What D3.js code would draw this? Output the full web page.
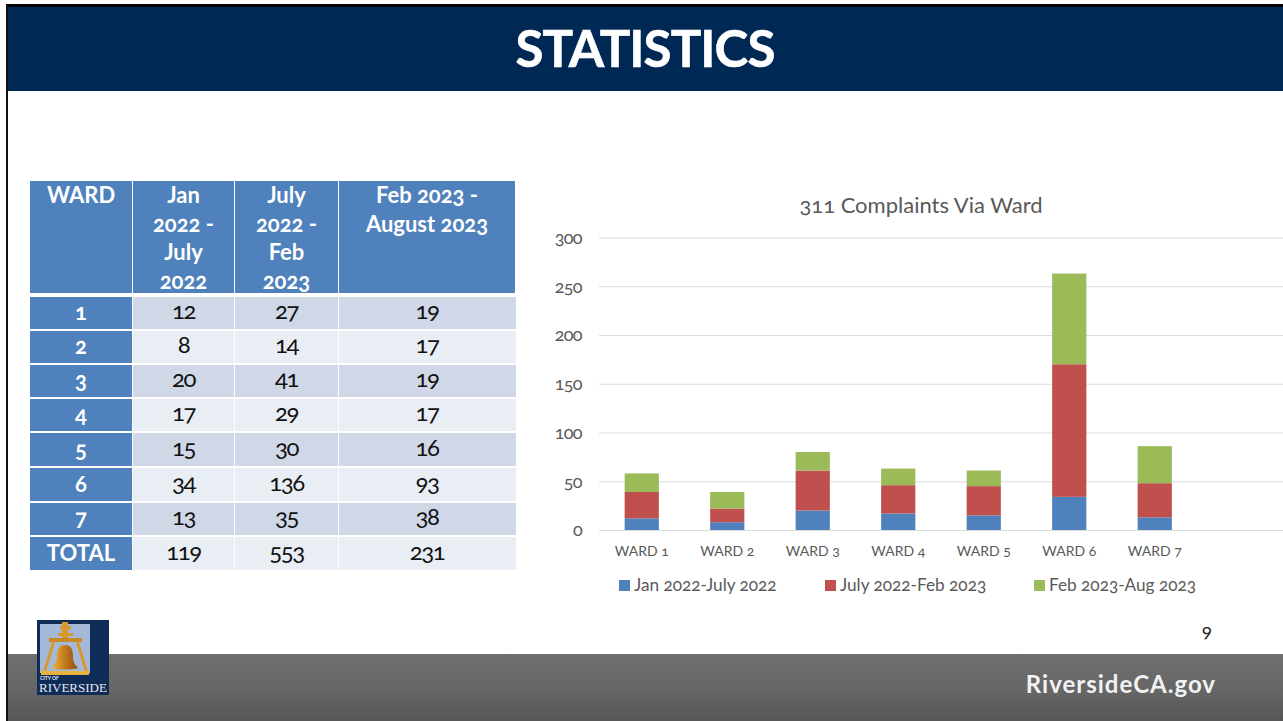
<!DOCTYPE html>
<html>
<head>
<meta charset="utf-8">
<script src="https://d3js.org/d3.v7.min.js"></script>
<style>
html, body { margin: 0; padding: 0; background: #fff; overflow: hidden; }
svg { display: block; }
text { font-family: Lato, "Open Sans", sans-serif; font-variant-numeric: oldstyle-nums; }
</style>
</head>
<body>
<div id="slide"></div>
<script>
const wards = ["WARD 1", "WARD 2", "WARD 3", "WARD 4", "WARD 5", "WARD 6", "WARD 7"];
const seriesNames = ["Jan 2022-July 2022", "July 2022-Feb 2023", "Feb 2023-Aug 2023"];
const seriesColors = ["#4f81bd", "#c0504d", "#9bbb59"];
const jan22 = [12, 8, 20, 17, 15, 34, 13];
const jul22 = [27, 14, 41, 29, 30, 136, 35];
const feb23 = [19, 17, 19, 17, 16, 93, 38];
const totals = [119, 553, 231];
const yTicks = [0, 50, 100, 150, 200, 250, 300];

const tableHeads = [
    ["WARD"],
    ["Jan", "2022 -", "July", "2022"],
    ["July", "2022 -", "Feb", "2023"],
    ["Feb 2023 -", "August 2023"]
];

const svg = d3.select("#slide").append("svg")
    .attr("width", 1283)
    .attr("height", 721);

const defs = svg.append("defs");
const footGrad = defs.append("linearGradient")
    .attr("id", "footGrad")
    .attr("x1", 0).attr("y1", 0).attr("x2", 0).attr("y2", 1);
footGrad.append("stop").attr("offset", "0%").attr("stop-color", "#6f6f6f");
footGrad.append("stop").attr("offset", "55%").attr("stop-color", "#666666");
footGrad.append("stop").attr("offset", "100%").attr("stop-color", "#565656");

const bellGrad = defs.append("linearGradient")
    .attr("id", "bellGrad")
    .attr("x1", 0).attr("y1", 0).attr("x2", 1).attr("y2", 0);
bellGrad.append("stop").attr("offset", "0%").attr("stop-color", "#f2b233");
bellGrad.append("stop").attr("offset", "60%").attr("stop-color", "#b8701a");
bellGrad.append("stop").attr("offset", "100%").attr("stop-color", "#8a4f12");

// slide frame, header and footer
svg.append("rect").attr("x", 6).attr("y", 4).attr("width", 1277).attr("height", 3).attr("fill", "#000");
svg.append("rect").attr("x", 6).attr("y", 4).attr("width", 2).attr("height", 717).attr("fill", "#111");
svg.append("rect").attr("x", 8).attr("y", 7).attr("width", 1275).attr("height", 84).attr("fill", "#002855");
svg.append("rect").attr("x", 8).attr("y", 654).attr("width", 1275).attr("height", 67).attr("fill", "url(#footGrad)");

svg.append("text")
    .attr("x", 645).attr("y", 67)
    .attr("text-anchor", "middle")
    .attr("font-size", 51)
    .attr("font-weight", 700)
    .attr("letter-spacing", -0.9)
    .attr("fill", "#fff")
    .attr("stroke", "#fff")
    .attr("stroke-width", 0.6)
    .text("STATISTICS");

svg.append("text")
    .attr("x", 1216).attr("y", 693)
    .attr("text-anchor", "end")
    .attr("font-size", 24)
    .attr("font-weight", 700)
    .attr("letter-spacing", 1)
    .attr("fill", "#f2f2f2")
    .text("RiversideCA.gov");

svg.append("text")
    .attr("x", 1207).attr("y", 637)
    .attr("text-anchor", "middle")
    .attr("font-size", 19)
    .attr("fill", "#222")
    .text("9");

// table
const colEdges = [30, 133, 235, 339, 516];
const rowEdges = [297, 331, 365, 399, 433, 468, 503, 537, 570];
const rowLabels = ["1", "2", "3", "4", "5", "6", "7", "TOTAL"];
const rowValues = wards.map((w, i) => [jan22[i], jul22[i], feb23[i]]).concat([totals]);
const table = svg.append("g");
const headBlue = "#4f81bd";

tableHeads.forEach((lines, c) => {
    table.append("rect")
        .attr("x", colEdges[c]).attr("y", 181)
        .attr("width", colEdges[c + 1] - colEdges[c] - 1).attr("height", 112)
        .attr("fill", headBlue);
    table.selectAll(null).data(lines).enter().append("text")
        .attr("x", (colEdges[c] + colEdges[c + 1] - 1) / 2)
        .attr("y", (d, i) => 203 + i * 28.7)
        .attr("text-anchor", "middle")
        .attr("font-size", 22)
        .attr("font-weight", 700)
        .attr("fill", "#fff")
        .text(d => d);
});

rowLabels.forEach((label, r) => {
    const y0 = rowEdges[r];
    const h = rowEdges[r + 1] - y0 - (r < 7 ? 2 : 0);
    const mid = y0 + h / 2;
    table.append("rect")
        .attr("x", colEdges[0]).attr("y", y0)
        .attr("width", colEdges[1] - colEdges[0] - 1).attr("height", h)
        .attr("fill", headBlue);
    table.append("text")
        .attr("x", (colEdges[0] + colEdges[1] - 1) / 2).attr("y", mid + 7)
        .attr("text-anchor", "middle")
        .attr("font-size", 22)
        .attr("font-weight", 700)
        .attr("fill", "#fff")
        .text(label);
    rowValues[r].forEach((v, c) => {
        table.append("rect")
            .attr("x", colEdges[c + 1]).attr("y", y0)
            .attr("width", colEdges[c + 2] - colEdges[c + 1] - (c < 2 ? 1 : 0)).attr("height", h)
            .attr("fill", r % 2 === 0 ? "#d0d8e8" : "#e9edf4");
        table.append("text")
            .attr("x", (colEdges[c + 1] + colEdges[c + 2] - 1) / 2).attr("y", mid + 6)
            .attr("text-anchor", "middle")
            .attr("font-size", 24)
            .attr("letter-spacing", -1.4)
            .attr("fill", "#111")
            .text(v);
    });
});

// stacked bar chart
const x = d3.scaleBand()
    .domain(wards.concat([""]))
    .range([599, 1283])
    .paddingInner(0.6)
    .paddingOuter(0.3);

const y = d3.scaleLinear()
    .domain([0, 300])
    .range([530, 237.5]);

const chart = svg.append("g");

chart.append("text")
    .attr("x", 921).attr("y", 213)
    .attr("text-anchor", "middle")
    .attr("font-size", 22)
    .attr("fill", "#595959")
    .text("311 Complaints Via Ward");

const yAxis = chart.append("g")
    .attr("transform", "translate(599,0)")
    .call(d3.axisLeft(y).tickValues(yTicks).tickSize(-684).tickPadding(17));
yAxis.select(".domain").remove();
yAxis.selectAll(".tick line").attr("stroke", "#dcdcdc").attr("stroke-width", 1.2);
yAxis.selectAll(".tick text").attr("font-size", 18).attr("letter-spacing", -0.6).attr("fill", "#595959");

const stackRows = wards.map((w, i) => ({ ward: w, s0: jan22[i], s1: jul22[i], s2: feb23[i] }));
const stacked = d3.stack().keys(["s0", "s1", "s2"])(stackRows);

chart.selectAll("g.series")
    .data(stacked)
    .enter()
    .append("g")
    .attr("class", "series")
    .attr("fill", (d, i) => seriesColors[i])
    .selectAll("rect")
    .data(d => d)
    .enter()
    .append("rect")
    .attr("x", d => x(d.data.ward))
    .attr("y", d => y(d[1]))
    .attr("width", x.bandwidth())
    .attr("height", d => y(d[0]) - y(d[1]));

const xAxis = chart.append("g")
    .attr("transform", "translate(0,530)")
    .call(d3.axisBottom(x).tickValues(wards).tickSize(0).tickPadding(16));
xAxis.select(".domain").attr("stroke", "#dcdcdc").attr("stroke-width", 1.2);
xAxis.selectAll(".tick text").attr("font-size", 14).attr("fill", "#595959");

// legend
const legendX = [619, 825, 1034];
const legend = chart.selectAll("g.legend")
    .data(seriesNames)
    .enter()
    .append("g")
    .attr("class", "legend")
    .attr("transform", (d, i) => `translate(${legendX[i]},580)`);
legend.append("rect")
    .attr("width", 11).attr("height", 11)
    .attr("fill", (d, i) => seriesColors[i]);
legend.append("text")
    .attr("x", 15).attr("y", 11)
    .attr("font-size", 17.2)
    .attr("fill", "#595959")
    .text(d => d);

// city logo
const logo = svg.append("g").attr("transform", "translate(37,620)");
const gold = "#d9982a";
logo.append("rect").attr("width", 72).attr("height", 75).attr("fill", "#0f2c56");
logo.append("rect").attr("x", 3).attr("y", 4).attr("width", 50).attr("height", 49).attr("fill", "#a4b8d8");
logo.append("rect").attr("x", 25).attr("y", 2).attr("width", 6).attr("height", 17).attr("fill", gold);
logo.append("rect").attr("x", 23).attr("y", 6).attr("width", 11).attr("height", 3).attr("fill", gold);
logo.append("rect").attr("x", 21).attr("y", 13).attr("width", 15).attr("height", 3).attr("fill", gold);
logo.append("rect").attr("x", 12).attr("y", 18).attr("width", 33).attr("height", 4).attr("fill", "#c98a25");
logo.append("path").attr("d", "M15 22 L6 52 L9 52 L18 22 Z M39 22 L48 52 L51 52 L42 22 Z").attr("fill", gold);
logo.append("rect").attr("x", 4).attr("y", 51).attr("width", 48).attr("height", 4).attr("fill", "#e8b23c");
logo.append("path")
    .attr("d", "M28 25 C21 25 20 31 20 37 C20 42 17 45 15 48 C22 50 34 50 41 48 C38 45 36 42 36 37 C36 31 35 25 28 25 Z")
    .attr("fill", "url(#bellGrad)");
logo.append("text")
    .attr("x", 3).attr("y", 60)
    .attr("font-size", 5)
    .attr("font-weight", 700)
    .attr("fill", "#e6e9f0")
    .text("CITY OF");
logo.append("text")
    .attr("x", 2).attr("y", 72)
    .style("font-family", "Liberation Serif")
    .attr("font-size", 13)
    .attr("fill", "#e6e9f0")
    .text("RIVERSIDE");
</script>
</body>
</html>
